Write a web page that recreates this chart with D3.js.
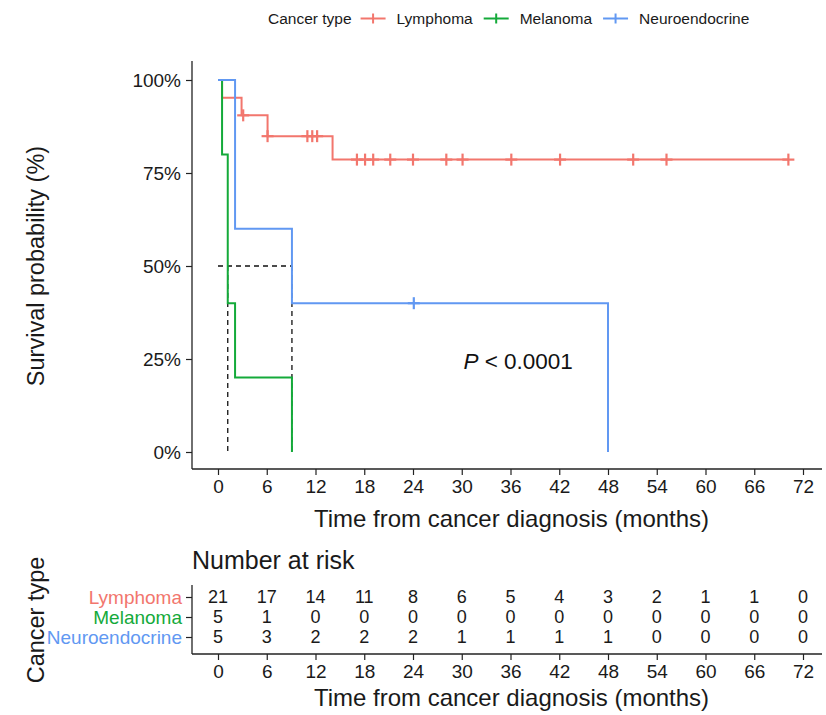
<!DOCTYPE html>
<html>
<head>
<meta charset="utf-8">
<script src="https://cdn.jsdelivr.net/npm/d3@7"></script>
<style>
  body { margin: 0; background: #fff; }
  svg { font-family: "Liberation Sans", Arial, sans-serif; }
</style>
</head>
<body>
<div id="chart"></div>
<script>
// Kaplan-Meier data
const groups = ["Lymphoma", "Melanoma", "Neuroendocrine"];
const colors = ["#F2766D", "#14AA3A", "#6198F2"];

const lymphomaTime = [0, 0.5, 2.9, 6.1, 14.1];
const lymphomaSurv = [1, 0.952, 0.905, 0.849, 0.786];
const lymphomaEnd = 70.2;
const lymphomaCensor = [3.1, 6.1, 11.0, 11.6, 12.2, 17.1, 18.1, 19.1, 21.2, 24.0, 28.1, 30.1, 36.1, 42.1, 51.1, 55.2, 70.2];

const melanomaTime = [0, 0.5, 1.2, 2.1, 9.1];
const melanomaSurv = [1, 0.8, 0.4, 0.2, 0];
const melanomaEnd = 9.1;
const melanomaCensor = [];

const neuroTime = [0, 2.1, 9.1, 48];
const neuroSurv = [1, 0.6, 0.4, 0];
const neuroEnd = 48;
const neuroCensor = [24.1];

// median survival lines
const medianTimes = [1.2, 9.1];

// number at risk table
const riskTimes = [0, 6, 12, 18, 24, 30, 36, 42, 48, 54, 60, 66, 72];
const riskLymphoma = [21, 17, 14, 11, 8, 6, 5, 4, 3, 2, 1, 1, 0];
const riskMelanoma = [5, 1, 0, 0, 0, 0, 0, 0, 0, 0, 0, 0, 0];
const riskNeuro = [5, 3, 2, 2, 2, 1, 1, 1, 1, 0, 0, 0, 0];

const xTicks = [0, 6, 12, 18, 24, 30, 36, 42, 48, 54, 60, 66, 72];
const yTicks = [0, 0.25, 0.5, 0.75, 1];

const pText = "< 0.0001";

const series = [
  { name: groups[0], time: lymphomaTime, surv: lymphomaSurv, end: lymphomaEnd, censor: lymphomaCensor, risk: riskLymphoma },
  { name: groups[1], time: melanomaTime, surv: melanomaSurv, end: melanomaEnd, censor: melanomaCensor, risk: riskMelanoma },
  { name: groups[2], time: neuroTime, surv: neuroSurv, end: neuroEnd, censor: neuroCensor, risk: riskNeuro }
];

const width = 826, height = 715;
const svg = d3.select("#chart").append("svg")
  .attr("width", width)
  .attr("height", height);

const x = d3.scaleLinear().domain([0, 72]).range([218, 803]);
const y = d3.scaleLinear().domain([0, 1]).range([452, 80]);
const axisLeft = 192, axisRight = 822, axisBottom = 469, axisTop = 61;
const textCol = "#1a1a1a";

// survival value at time t (step function)
function survAt(s, t) {
  let v = s.surv[0];
  s.time.forEach((tt, i) => { if (tt <= t) v = s.surv[i]; });
  return v;
}

// ---- main plot axes ----
const gx = svg.append("g")
  .attr("transform", `translate(0,${axisBottom})`)
  .call(d3.axisBottom(x).tickValues(xTicks).tickSize(6).tickPadding(5));
gx.select(".domain").attr("d", `M${axisLeft},0H${axisRight}`);

const gy = svg.append("g")
  .attr("transform", `translate(${axisLeft},0)`)
  .call(d3.axisLeft(y).tickValues(yTicks).tickSize(6).tickPadding(5).tickFormat(d3.format(".0%")));
gy.select(".domain").attr("d", `M0,${axisTop}V${axisBottom}`);

[gx, gy].forEach(g => {
  g.select(".domain").attr("stroke", "#222").attr("stroke-width", 1.3);
  g.selectAll(".tick line").attr("stroke", "#222").attr("stroke-width", 1.2);
  g.selectAll(".tick text").attr("fill", textCol).style("font-size", "19px").style("font-family", "Liberation Sans, Arial, sans-serif");
});

svg.append("text")
  .attr("x", (x(0) + x(72)) / 2 + 1)
  .attr("y", 527)
  .attr("text-anchor", "middle")
  .attr("fill", textCol)
  .style("font-size", "24px")
  .text("Time from cancer diagnosis (months)");

svg.append("text")
  .attr("transform", `translate(44,${y(0.5)}) rotate(-90)`)
  .attr("text-anchor", "middle")
  .attr("fill", textCol)
  .style("font-size", "23.5px")
  .text("Survival probability (%)");

// ---- median dashed lines ----
const med = svg.append("g")
  .attr("stroke", "#111")
  .attr("stroke-width", 1.3)
  .attr("stroke-dasharray", "5,4")
  .attr("fill", "none");
med.append("line")
  .attr("x1", x(0)).attr("x2", x(d3.max(medianTimes)))
  .attr("y1", y(0.5)).attr("y2", y(0.5));
medianTimes.forEach(t => {
  med.append("line")
    .attr("x1", x(t)).attr("x2", x(t))
    .attr("y1", y(0.5)).attr("y2", y(0));
});

// ---- survival curves ----
const line = d3.line()
  .x(d => x(d[0]))
  .y(d => y(d[1]))
  .curve(d3.curveStepAfter);

series.forEach((s, i) => {
  const pts = s.time.map((t, j) => [t, s.surv[j]]);
  pts.push([s.end, s.surv[s.surv.length - 1]]);
  svg.append("path")
    .datum(pts)
    .attr("d", line)
    .attr("fill", "none")
    .attr("stroke", colors[i])
    .attr("stroke-width", 2);

  // censor marks
  const cs = svg.append("g").attr("stroke", colors[i]).attr("stroke-width", 2.2);
  s.censor.forEach(t => {
    const cx = x(t), cy = y(survAt(s, t));
    cs.append("line").attr("x1", cx - 6).attr("x2", cx + 6).attr("y1", cy).attr("y2", cy);
    cs.append("line").attr("x1", cx).attr("x2", cx).attr("y1", cy - 6).attr("y2", cy + 6);
  });
});

// P value
const pLabel = svg.append("text")
  .attr("x", x(30.2))
  .attr("y", y(0.245) + 8)
  .attr("fill", "#111")
  .style("font-size", "22.5px");
pLabel.append("tspan").style("font-style", "italic").text("P");
pLabel.append("tspan").text(" " + pText);

// ---- legend ----
const legend = svg.append("g").attr("transform", "translate(268,24)");
let cursor = 0;
const lt = legend.append("text")
  .attr("x", 0).attr("y", 0)
  .attr("fill", textCol)
  .style("font-size", "15.5px")
  .text("Cancer type");
cursor += lt.node().getComputedTextLength() + 9;
groups.forEach((g, i) => {
  const cy = -5.5;
  legend.append("line")
    .attr("x1", cursor).attr("x2", cursor + 25)
    .attr("y1", cy).attr("y2", cy)
    .attr("stroke", colors[i]).attr("stroke-width", 2);
  legend.append("line")
    .attr("x1", cursor + 12.5).attr("x2", cursor + 12.5)
    .attr("y1", cy - 5).attr("y2", cy + 5)
    .attr("stroke", colors[i]).attr("stroke-width", 2);
  cursor += 36;
  const t = legend.append("text")
    .attr("x", cursor).attr("y", 0)
    .attr("fill", textCol)
    .style("font-size", "15.5px")
    .text(g);
  cursor += t.node().getComputedTextLength() + 11;
});

// ---- number at risk table ----
const tableBottom = 654, tableTop = 585;
const rowY = d3.scalePoint().domain(groups).range([597, 637]);

svg.append("text")
  .attr("x", axisLeft)
  .attr("y", 569)
  .attr("fill", textCol)
  .style("font-size", "25px")
  .text("Number at risk");

const tx = svg.append("g")
  .attr("transform", `translate(0,${tableBottom})`)
  .call(d3.axisBottom(x).tickValues(riskTimes).tickSize(6).tickPadding(5));
tx.select(".domain").attr("d", `M${axisLeft},0H${axisRight}`);

const ty = svg.append("g")
  .attr("transform", `translate(${axisLeft},0)`)
  .call(d3.axisLeft(rowY).tickSize(6).tickPadding(4));
ty.select(".domain").attr("d", `M0,${tableTop}V${tableBottom}`);

[tx, ty].forEach(g => {
  g.select(".domain").attr("stroke", "#222").attr("stroke-width", 1.3);
  g.selectAll(".tick line").attr("stroke", "#222").attr("stroke-width", 1.2);
  g.selectAll(".tick text").attr("fill", textCol).style("font-size", "19px").style("font-family", "Liberation Sans, Arial, sans-serif");
});
ty.selectAll(".tick text")
  .attr("fill", (d, i) => colors[i])
  .style("font-size", "19px");

series.forEach((s, i) => {
  svg.append("g")
    .selectAll("text")
    .data(s.risk)
    .join("text")
    .attr("x", (d, j) => x(riskTimes[j]))
    .attr("y", rowY(s.name))
    .attr("dy", "0.35em")
    .attr("text-anchor", "middle")
    .attr("fill", textCol)
    .style("font-size", "18px")
    .text(d => d);
});

svg.append("text")
  .attr("x", (x(0) + x(72)) / 2 + 1)
  .attr("y", 706)
  .attr("text-anchor", "middle")
  .attr("fill", textCol)
  .style("font-size", "24px")
  .text("Time from cancer diagnosis (months)");

svg.append("text")
  .attr("transform", `translate(44,620) rotate(-90)`)
  .attr("text-anchor", "middle")
  .attr("fill", textCol)
  .style("font-size", "23.5px")
  .text("Cancer type");
</script>
</body>
</html>
